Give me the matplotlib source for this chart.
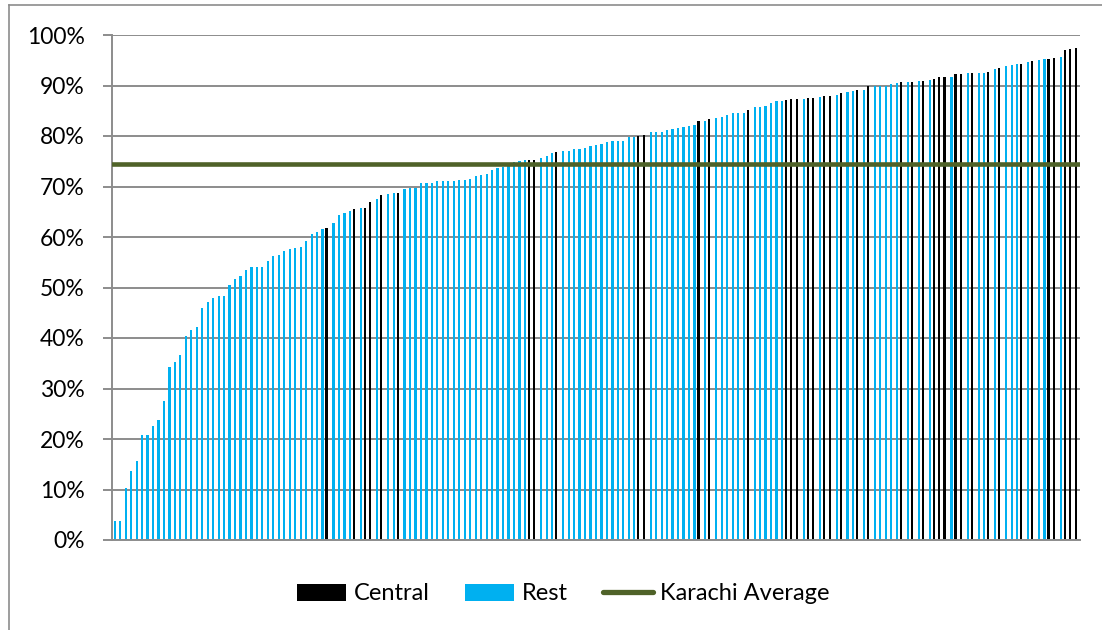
import matplotlib
matplotlib.use("Agg")
import matplotlib.pyplot as plt
from matplotlib.lines import Line2D
from matplotlib.patches import Patch
import numpy as np

plt.rcParams['font.family'] = ['Lato', 'DejaVu Sans']

# Share (%) per unit, sorted ascending
values = [
    3.8, 3.8, 10.2, 13.7, 15.7, 20.8, 20.8, 22.6, 23.8, 27.5,
    34.3, 35.2, 36.7, 40.3, 41.5, 42.2, 46.0, 47.1, 48.0, 48.3,
    48.4, 50.4, 51.6, 52.3, 53.4, 54.0, 54.0, 54.0, 55.2, 56.2,
    56.4, 57.3, 57.6, 57.8, 58.0, 59.3, 60.5, 60.9, 61.5, 61.8,
    62.7, 64.4, 64.7, 65.1, 65.6, 65.7, 65.7, 66.9, 67.6, 68.3,
    68.5, 68.8, 68.8, 69.6, 69.7, 69.7, 70.6, 70.6, 70.6, 71.0,
    71.0, 71.0, 71.0, 71.2, 71.3, 71.4, 72.1, 72.3, 72.5, 73.2,
    73.7, 73.9, 74.1, 74.9, 75.1, 75.2, 75.2, 75.3, 75.6, 76.1,
    76.6, 76.8, 77.1, 77.1, 77.4, 77.4, 77.6, 78.0, 78.2, 78.4,
    78.8, 79.0, 79.1, 79.1, 79.8, 79.9, 80.0, 80.2, 80.7, 80.7,
    80.8, 81.2, 81.4, 81.6, 81.8, 82.0, 82.2, 83.0, 83.0, 83.4,
    83.5, 83.7, 84.1, 84.5, 84.5, 84.5, 85.1, 85.7, 85.8, 86.0,
    86.5, 86.9, 87.0, 87.1, 87.3, 87.3, 87.4, 87.5, 87.6, 87.8,
    88.0, 88.0, 88.1, 88.6, 88.7, 89.0, 89.2, 89.2, 90.0, 90.0,
    90.0, 90.0, 90.2, 90.4, 90.6, 90.6, 90.6, 90.8, 90.9, 91.0,
    91.3, 91.6, 91.7, 91.7, 92.2, 92.2, 92.4, 92.4, 92.5, 92.5,
    92.6, 93.3, 93.5, 93.9, 94.1, 94.3, 94.3, 94.6, 94.9, 95.0,
    95.2, 95.3, 95.5, 95.7, 97.0, 97.2, 97.4,
]

# 1-based positions of units belonging to "Central"
central_positions = [40, 45, 47, 48, 50, 53, 77, 78, 82, 97, 98, 108, 110, 117,
                     124, 125, 126, 128, 129, 131, 132, 134, 137, 139, 145, 147,
                     149, 151, 152, 153, 155, 156, 158, 161, 163, 167, 169, 172,
                     173, 175, 176, 177]

karachi_average = 74.5

series_labels = ["Central", "Rest", "Karachi Average"]
yticks = [0, 10, 20, 30, 40, 50, 60, 70, 80, 90, 100]
ytick_labels = [f"{t}%" for t in yticks]

W, H = 1102, 630
fig = plt.figure(figsize=(W / 100, H / 100), dpi=100)
ax = fig.add_axes([112 / W, (H - 540) / H, (1080 - 112) / W, (540 - 35) / H])

n = len(values)
x = np.arange(n)
vals = np.array(values)
is_central = np.zeros(n, dtype=bool)
is_central[np.array(central_positions) - 1] = True

blue = "#00B0F0"
ax.bar(x[~is_central], vals[~is_central], width=0.4, color=blue, zorder=2, linewidth=0)
ax.bar(x[is_central] - 0.27, vals[is_central], width=0.4, color="black", zorder=2, linewidth=0)
ax.axhline(karachi_average, color="#4F6228", lw=3.3, zorder=3, solid_capstyle="round")

ax.set_xlim(-0.5, n - 0.5)
ax.set_ylim(0, 100)
ax.set_yticks(yticks)
ax.set_yticklabels(ytick_labels)
ax.set_xticks([])
grid_c = "#8C8C8C"
ax.yaxis.grid(True, color=grid_c, lw=1.4, zorder=0)
ax.set_axisbelow(True)
for s in ["top", "right"]:
    ax.spines[s].set_visible(False)
ax.spines["left"].set_color(grid_c)
ax.spines["left"].set_linewidth(1.4)
ax.spines["bottom"].set_color(grid_c)
ax.spines["bottom"].set_linewidth(1.4)
ax.tick_params(axis="y", direction="out", length=6.5, width=1.4, color=grid_c,
               pad=13, labelsize=16.5, labelcolor="black")

handles = [Patch(facecolor="black", edgecolor="none"),
           Patch(facecolor=blue, edgecolor="none"),
           Line2D([0], [0], color="#4F6228", lw=3.8, solid_capstyle="round")]
fig.legend(handles, series_labels, loc="center", ncol=3,
           bbox_to_anchor=(563 / W, 1 - 594 / H), frameon=False,
           fontsize=17, handlelength=2.1, handleheight=0.75,
           handletextpad=0.3, columnspacing=1.5)

# chart frame (left and top edges visible)
fig.add_artist(Line2D([9 / W, 9 / W], [1 - 5 / H, 0], color="#8C8C8C", lw=1.2,
                      transform=fig.transFigure))
fig.add_artist(Line2D([9 / W, 1], [1 - 5 / H, 1 - 5 / H], color="#8C8C8C", lw=1.2,
                      transform=fig.transFigure))

fig.savefig("out.png", dpi=100)
